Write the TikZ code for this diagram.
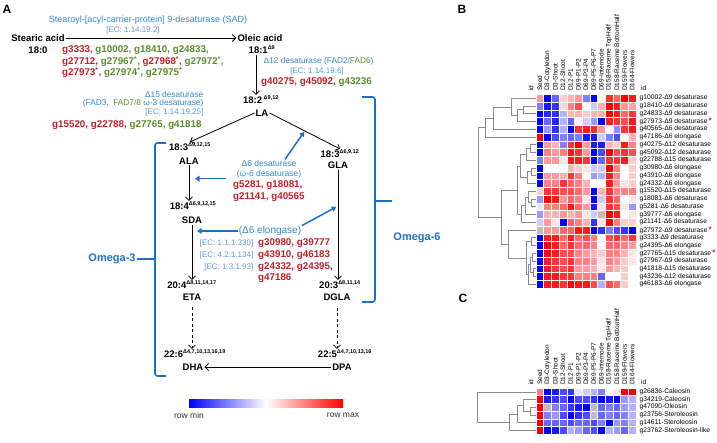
\documentclass[tikz,border=0pt]{standalone}
\usepackage{fontspec}
\setmainfont{Liberation Sans}
\usetikzlibrary{arrows.meta}

\definecolor{genered}{RGB}{195,32,40}
\definecolor{genegreen}{RGB}{92,140,44}
\definecolor{enzblue}{RGB}{50,135,205}
\definecolor{ecblue}{RGB}{95,155,215}
\definecolor{omblue}{RGB}{28,112,200}
\definecolor{nagray}{RGB}{190,190,190}
\definecolor{starred}{RGB}{220,30,40}
\definecolor{dendgray}{RGB}{140,140,140}

\newcommand{\R}[1]{\textcolor{genered}{#1}}
\newcommand{\G}[1]{\textcolor{genegreen}{#1}}
\newcommand{\dsup}[1]{\textsuperscript{\fontsize{5.5}{6}\selectfont Δ#1}}
\newcommand{\st}{\textsuperscript{*}}
\newcommand{\rs}{\,{\color{starred}\fontsize{8}{8}\selectfont\bfseries *}}
% one heatmap row: top y, row height, row number, values (-1..1, 9 = no data)
\newcommand{\hmrow}[4]{%
  \foreach \v [count=\j] in {#4} {%
    \ifdim\v pt>5pt \def\hmc{nagray}%
    \else\ifdim\v pt<0pt \pgfmathsetmacro{\hmp}{-100*\v}\edef\hmc{blue!\hmp!white}%
    \else\pgfmathsetmacro{\hmp}{100*\v}\edef\hmc{red!\hmp!white}\fi\fi
    \draw[cellbox, fill=\hmc] ({536+(\j-1)*7.69},{#1+(#3-1)*#2}) rectangle ++(7.69,#2);
  }}
% one dendrogram link: x of join, x1, y1, x2, y2
\newcommand{\dlink}[5]{\draw[dendro] (#2,#3) -| (#1,#5) -- (#4,#5);}

\begin{document}
\begin{tikzpicture}[x=1pt,y=-1pt,
  fa/.style={font=\fontsize{9.5}{11}\bfseries\selectfont, inner sep=1pt},
  gene/.style={font=\fontsize{9.8}{11}\bfseries\selectfont, anchor=west, inner sep=0pt},
  enz/.style={text=enzblue, font=\fontsize{8.3}{9.5}\selectfont, inner sep=0.5pt},
  ec/.style={text=ecblue, font=\fontsize{8}{9}\selectfont, inner sep=0.5pt},
  omega/.style={text=omblue, font=\fontsize{11}{13}\bfseries\selectfont, inner sep=1pt},
  panel/.style={font=\fontsize{12}{14}\bfseries\selectfont, inner sep=0pt},
  arr/.style={-{Straight Barb[length=3.5pt,width=7pt]}, line width=0.8pt},
  dasharr/.style={arr, dash pattern=on 3pt off 2.5pt},
  enzarr/.style={draw=omblue, line width=1.5pt, -{Triangle[length=4.5pt,width=5.5pt]}},
  brk/.style={draw=omblue, line width=1.6pt, rounded corners=2.5pt},
  collab/.style={rotate=90, anchor=west, inner sep=0pt, font=\fontsize{6.5}{7}\selectfont},
  rowlab/.style={anchor=west, inner sep=0pt, font=\fontsize{6.7}{7.5}\selectfont},
  cellbox/.style={draw=white, line width=0.5pt},
  dendro/.style={draw=dendgray, line width=0.6pt},
  barlab/.style={font=\fontsize{8.5}{10}\selectfont, text=black!80}]
  \useasboundingbox (0,0) rectangle (717,443);

  % panel A
  \node[panel] (pa) at (7,9) {A};

  % stearic acid -> oleic acid
  \node[fa] (sa) at (38,38) {Stearic acid};
  \node[fa] (sa0) at (38,50) {18:0};
  \node[fa] (oa) at (260,38) {Oleic acid};
  \node[fa] (oa1) at (262,50) {18:1\dsup{9}};
  \node[enz, font=\fontsize{9}{10}\selectfont] (sad) at (148,20) {Stearoyl-[acyl-carrier-protein]\ 9-desaturase\ (SAD)};
  \node[ec] (sadec) at (133,30) {[EC: 1.14.19.2]};
  \node[gene] (sadg1) at (62,50) {\R{g3333,} \G{g10002,} \G{g18410,} \G{g24833,}};
  \node[gene] (sadg2) at (62,61.5) {\R{g27712,} \G{g27967\st,} \R{g27968\st,} \G{g27972\st,}};
  \node[gene] (sadg3) at (62,72.5) {\R{g27973\st,} \G{g27974\st,} \G{g27975\st}};
  \draw[arr] (sa.east) -- (oa.west);

  % delta 12
  \node[enz, anchor=west] (d12) at (263,61) {Δ12 desaturase (FAD2/\G{FAD6})};
  \node[ec] (d12ec) at (317,71) {[EC: 1.14.19.6]};
  \node[gene] (d12g) at (261,82) {\R{g40275,} \R{g45092,} \G{g43236}};
  \node[fa] (la2) at (261,100) {18:2\,\dsup{9,12}};
  \node[fa] (la) at (262,113) {LA};
  \draw[arr] ([xshift=-6pt]oa1.south) -- ([xshift=-6pt]oa1.south |- la2.north);

  % delta 15
  \node[enz, anchor=east] (d15a) at (204,95) {Δ15 desaturase};
  \node[enz, anchor=east] (d15b) at (204,103.5) {(FAD3,\ \ \G{FAD7/8}\ ω-3 desaturase)};
  \node[ec, anchor=east] (d15ec) at (204,112) {[EC: 1.14.19.25]};
  \node[gene] (d15g) at (52,125) {\R{g15520,} \R{g22788,} \G{g27765,} \G{g41818}};

  % LA -> ALA, LA -> GLA
  \node[fa] (ala3) at (190,147) {18:3\dsup{9,12,15}};
  \node[fa] (ala) at (189,161) {ALA};
  \node[fa] (gla3) at (340,154) {18:3\dsup{6,9,12}};
  \node[fa] (gla) at (338,165) {GLA};
  \draw[arr] (la.west) -- (ala3.north);
  \draw[arr] (la.east) -- coordinate[pos=0.5] (lagla) (gla3.north);

  % delta 6 desaturase
  \node[enz, align=center, font=\fontsize{8.5}{10}\selectfont] (d6) at (269,169) {Δ6 desaturase\\(ω-6 desaturase)};
  \node[gene] (d6g1) at (233,185) {\R{g5281, g18081,}};
  \node[gene] (d6g2) at (233,197) {\R{g21141, g40565}};

  % SDA, DGLA
  \node[fa] (sda4) at (193,206) {18:4\dsup{6,9,12,15}};
  \node[fa] (sda) at (192,220) {SDA};
  \node[fa] (eta4) at (192,285) {20:4\dsup{8,11,14,17}};
  \node[fa] (eta) at (192,297) {ETA};
  \node[fa] (dgla3) at (340,285) {20:3\dsup{8,11,14}};
  \node[fa] (dgla) at (337,297) {DGLA};
  \draw[arr] (ala.south) -- (ala.south |- sda4.north);
  \draw[arr] (sda.south) -- (sda.south |- eta4.north);
  \draw[arr] (gla.south) -- coordinate[pos=0.33] (gladgla) (gla.south |- dgla3.north);

  % delta 6 elongase
  \node[enz, font=\fontsize{10}{12}\selectfont] (d6e) at (270,231) {(Δ6 elongase)};
  \node[ec, anchor=east] (d6ec1) at (254,243) {[EC: 1.1.1.330]};
  \node[ec, anchor=east] (d6ec2) at (254,255) {[EC: 4.2.1.134]};
  \node[ec, anchor=east] (d6ec3) at (254,267) {[EC: 1.3.1.93]};
  \node[gene] (d6eg1) at (258,243) {\R{g30980, g39777}};
  \node[gene] (d6eg2) at (258,255) {\R{g43910, g46183}};
  \node[gene] (d6eg3) at (258,267) {\R{g24332, g24395,}};
  \node[gene] (d6eg4) at (258,278) {\R{g47186}};

  % blue enzyme arrows
  \draw[enzarr, shorten >=1pt] ([xshift=16pt]d6.north) -- (lagla);
  \draw[enzarr, shorten <=10pt, shorten >=6pt] (d6.south west) -- (d6.south west -| ala.south);
  \draw[enzarr, shorten >=5pt] (d6e.west) -- (d6e.west -| sda.south);
  \draw[enzarr, shorten >=2pt] (d6e.north east) -- (gladgla);

  % DHA, DPA
  \node[fa] (dha6) at (195,354) {22:6\dsup{4,7,10,13,16,19}};
  \node[fa] (dha) at (193,367) {DHA};
  \node[fa] (dpa5) at (345,354) {22:5\dsup{4,7,10,13,16}};
  \node[fa] (dpa) at (342,367) {DPA};
  \draw[dasharr] ([yshift=-6pt]eta.south) -- (eta.south |- dha6.north);
  \draw[dasharr] ([yshift=-6pt]dgla.south) -- (dgla.south |- dpa5.north);
  \draw[arr] (dpa.west) -- (dha.east);

  % omega brackets
  \node[omega] (om3) at (112,259) {Omega-3};
  \draw[brk] (166,143) -- (155,143) -- (155,376) -- (166,376);
  \draw[brk] (om3.east) -- (155,259);
  \node[omega] (om6) at (417,238) {Omega-6};
  \draw[brk] (362,97) -- (375,97) -- (375,302) -- (362,302);
  \draw[brk] (375,201) -- (392,201);

  % colour bar
  \shade[left color=blue, right color=red, middle color=white] (189,399) rectangle (343,407);
  \node[barlab] (rmin) at (189,415) {row min};
  \node[barlab] (rmax) at (343,415) {row max};

  % panel B
  \node[panel] (pb) at (462,9) {B};
  \node[collab] (cbid) at (531,91) {id};
  \foreach \t [count=\j] in {Seed,D3-Cotyledon,D3-Shoot,D12-Shoot,D12-P1,D69-P1-P2,D69-P3-P4,D69-P5-P6-P7,D69-Internode,D158-Raceme TopHalf,D158-Raceme BottomHalf,D159-Flowers,D164-Flowers}
    \node[collab] (cb\j) at ({536+(\j-0.5)*7.69},91) {\t};
  \node[rowlab] (rbid) at (641,88) {id};

  \hmrow{94.3}{7.75}{1}{0.4,-1,-0.6,0.2,0.3,0.4,-0.5,-1,0,0.8,0.6,1,0.9}
  \hmrow{94.3}{7.75}{2}{-0.5,-0.9,-0.8,0.15,0.5,0.7,0,-0.2,0.3,1,0.9,0.4,0.35}
  \hmrow{94.3}{7.75}{3}{-1,-0.85,-0.8,-0.3,0.3,0.3,0.2,0.3,0.3,1,0.9,0.6,0.8}
  \hmrow{94.3}{7.75}{4}{-1,-0.6,-0.85,-0.3,-0.6,0.05,-0.2,-0.4,-1,0.9,0.8,0.7,0.9}
  \hmrow{94.3}{7.75}{5}{-1,-0.4,-0.8,-0.3,-1,0.8,0.9,0.85,0.4,0,-0.45,0.8,0.9}
  \hmrow{94.3}{7.75}{6}{1,-1,-0.7,-0.5,-0.6,-0.5,-0.9,-0.9,-0.2,-0.5,-0.7,0,0.3}
  \hmrow{94.3}{7.75}{7}{-1,0.4,0.3,-0.5,0.8,1,0.4,-0.9,-0.9,0.3,0.2,0.9,0.5}
  \hmrow{94.3}{7.75}{8}{-1,0.5,0.4,0.5,0.9,0.8,0.4,-1,-0.7,1,0.7,0.8,0.7}
  \hmrow{94.3}{7.75}{9}{-0.5,0.4,0.4,0.1,0.9,0.9,0.8,-1,-0.6,0.8,0.8,0.9,0.2}
  \hmrow{94.3}{7.75}{10}{-1,0,0,0,0.3,0.2,0.1,-0.2,-0.2,1,0.5,0,0.2}
  \hmrow{94.3}{7.75}{11}{-1,0.4,0.4,0.3,0.8,0.5,0,-0.4,-0.3,0.9,0.5,0,0.2}
  \hmrow{94.3}{7.75}{12}{-1,0.5,0.5,0.8,0.6,0.5,0.3,0,0,0.9,0.4,0.1,0.2}
  \hmrow{94.3}{7.75}{13}{0.2,0.8,0.8,0.7,0.7,0.6,0.4,-1,0.3,0.8,0.5,0.5,0.5}
  \hmrow{94.3}{7.75}{14}{-0.4,1,0.9,0.4,0.6,0.5,0.1,-1,-0.2,0.8,0.6,0,0.1}
  \hmrow{94.3}{7.75}{15}{-0.1,0.5,0.5,0.6,0.9,0.6,0.4,-0.9,0.1,0.8,0.7,0.1,-0.4}
  \hmrow{94.3}{7.75}{16}{-0.4,0.3,0.3,0.4,0.3,0.4,0.1,-0.2,9,1,0.9,0,0.1}
  \hmrow{94.3}{7.75}{17}{-0.2,0.4,0.1,-1,0.6,0.5,0.3,-0.8,0.1,1,0.5,0.2,0.2}
  \hmrow{94.3}{7.75}{18}{9,0.4,0.4,0.6,0.6,0.9,0.9,-1,-0.8,-0.5,-0.7,-0.8,-1}
  \hmrow{94.3}{7.75}{19}{-1,0.9,0.9,0.6,0.9,0.6,0.7,0.5,0,0.7,0.8,0.6,0.8}
  \hmrow{94.3}{7.75}{20}{-1,1,0.9,0.6,0.8,0.6,0.6,0.5,0,0.6,0.6,0.5,0.4}
  \hmrow{94.3}{7.75}{21}{-1,1,0.9,0.7,0.7,0.5,0.4,0.3,0.2,0.5,0.5,0.3,0.1}
  \hmrow{94.3}{7.75}{22}{-1,0.9,0.8,0.7,0.8,0.5,0.5,0.4,0.1,0.5,0.4,0.2,0.1}
  \hmrow{94.3}{7.75}{23}{-1,0.9,0.8,0.7,0.8,0.4,0.4,0.3,0.1,0.4,0.3,0.2,0}
  \hmrow{94.3}{7.75}{24}{-1,0.9,0.9,0.8,0.8,0.5,0.5,0.5,-0.6,0,0,0.2,0}
  \hmrow{94.3}{7.75}{25}{-1,0.9,0.9,0.8,1,0.9,0.9,0.7,-0.3,0.7,0.6,0.2,0}

  \foreach \t [count=\i] in {g10002-Δ9 desaturase,g18410-Δ9 desaturase,g24833-Δ9 desaturase,g27973-Δ9 desaturase\rs,g40565-Δ6 desaturase,g47186-Δ6 elongase,g40275-Δ12 desaturase,g45092-Δ12 desaturase,g22788-Δ15 desaturase,g30980-Δ6 elongase,g43910-Δ6 elongase,g24332-Δ6 elongase,g15520-Δ15 desaturase,g18081-Δ6 desaturase,g5281-Δ6 desaturase,g39777-Δ6 elongase,g21141-Δ6 desaturase,g27972-Δ9 desaturase\rs,g3333-Δ9 desaturase,g24395-Δ6 elongase,g27765-Δ15 desaturase\rs,g27967-Δ9 desaturase,g41818-Δ15 desaturase,g43236-Δ12 desaturase,g46183-Δ6 elongase}
    \node[rowlab] (rb\i) at (639.5,{98.2+(\i-1)*7.75}) {\t};

  % dendrogram B
  \dlink{523.3}{536}{105.9}{536}{113.7}
  \dlink{517.3}{523.3}{109.8}{536}{121.4}
  \dlink{511.7}{536}{98.2}{517.3}{115.6}
  \dlink{493.3}{511.7}{106.9}{536}{129.2}
  \dlink{485}{493.3}{118.05}{536}{136.9}
  \dlink{530}{536}{144.7}{536}{152.4}
  \dlink{526.7}{530}{148.55}{536}{160.2}
  \dlink{531}{536}{167.9}{536}{175.7}
  \dlink{527.7}{531}{171.8}{536}{183.4}
  \dlink{520}{526.7}{154.4}{527.7}{177.6}
  \dlink{531}{536}{198.9}{536}{206.7}
  \dlink{528.3}{536}{191.2}{531}{202.8}
  \dlink{525}{528.3}{197}{536}{214.4}
  \dlink{521.7}{525}{205.7}{536}{222.2}
  \dlink{517.3}{520}{166}{521.7}{213.95}
  \dlink{531.7}{536}{237.7}{536}{245.4}
  \dlink{532.7}{536}{253.2}{536}{260.9}
  \dlink{533.3}{536}{268.7}{536}{276.4}
  \dlink{530}{532.7}{257.05}{533.3}{272.55}
  \dlink{528.7}{530}{264.8}{536}{284.2}
  \dlink{526.7}{531.7}{241.55}{528.7}{274.5}
  \dlink{508.3}{536}{229.9}{526.7}{258}
  \dlink{501.7}{517.3}{190}{508.3}{243.95}
  \dlink{478.3}{485}{127.5}{501.7}{217}

  % panel C
  \node[panel] (pc) at (463,298) {C};
  \node[collab] (ccid) at (531,385) {id};
  \foreach \t [count=\j] in {Seed,D3-Cotyledon,D3-Shoot,D12-Shoot,D12-P1,D69-P1-P2,D69-P3-P4,D69-P5-P6-P7,D69-Internode,D158-Raceme TopHalf,D158-Raceme BottomHalf,D159-Flowers,D164-Flowers}
    \node[collab] (cc\j) at ({536+(\j-0.5)*7.69},385) {\t};
  \node[rowlab] (rcid) at (641,382) {id};

  \hmrow{388}{7.7}{1}{0.5,-1,-0.9,-0.7,-0.8,-0.1,-0.2,-0.3,-0.5,0,0.1,1,1}
  \hmrow{388}{7.7}{2}{1,-0.9,-0.8,-0.7,-1,-0.7,-0.7,-0.8,-1,-0.9,-1,-0.4,-0.3}
  \hmrow{388}{7.7}{3}{1,9,-0.5,-0.6,-0.8,-0.9,-1,9,-0.6,-0.5,-0.6,-0.4,-0.3}
  \hmrow{388}{7.7}{4}{1,-0.5,-0.4,-0.7,-1,-0.8,-0.7,9,-0.6,-0.5,-0.6,-0.5,-0.3}
  \hmrow{388}{7.7}{5}{1,-0.6,-0.6,-0.6,-0.7,-0.6,-0.6,-0.7,-0.5,-1,-0.4,-0.5,-0.3}
  \hmrow{388}{7.7}{6}{1,-1,-0.9,-0.7,-0.3,-0.4,-0.6,-0.7,-1,-0.3,-0.4,-0.6,-0.3}

  \foreach \t [count=\i] in {g26836-Caleosin,g34219-Caleosin,g47090-Oleosin,g23756-Steroleosin,g14611-Steroleosin,g23762-Steroleosin-like}
    \node[rowlab] (rc\i) at (639.5,{391.85+(\i-1)*7.7}) {\t};

  % dendrogram C
  \dlink{530}{536}{407.25}{536}{414.95}
  \dlink{523}{536}{399.55}{530}{411.1}
  \dlink{517}{523}{405.3}{536}{422.65}
  \dlink{509}{517}{414}{536}{430.35}
  \dlink{477}{536}{391.85}{509}{422.2}
\end{tikzpicture}
\end{document}
